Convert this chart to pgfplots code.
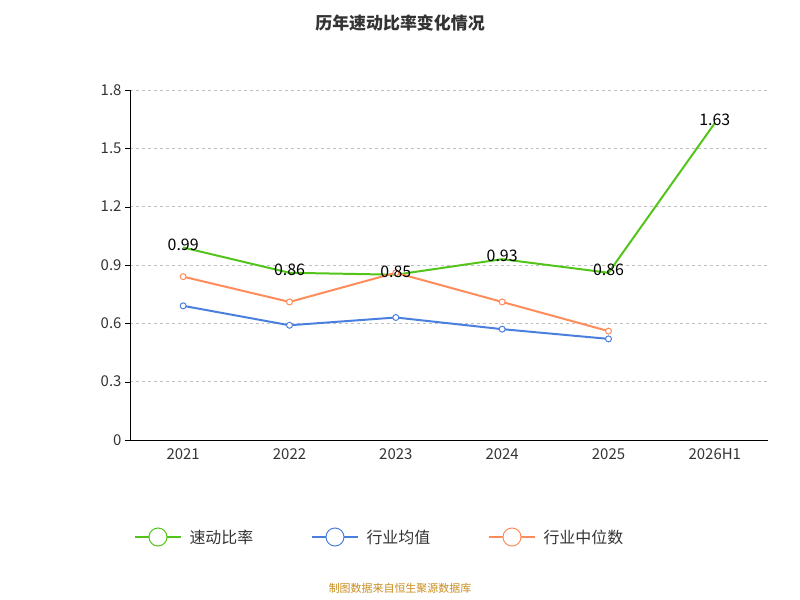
\documentclass[border=0pt]{standalone}
\usepackage{pgfplots}
\pgfplotsset{compat=1.18}
\usepackage{fontspec}
\setmainfont{Noto Sans CJK SC}
\definecolor{cg}{HTML}{52C41A}
\definecolor{cb}{HTML}{4A7FE0}
\definecolor{co}{HTML}{FF8C5A}
\definecolor{tx}{HTML}{333333}
\begin{document}
\begin{tikzpicture}
\path[use as bounding box] (0bp,0bp) rectangle (800bp,600bp);
\node[font=\bfseries\fontsize{17}{20}\selectfont, text=tx] at (400bp,577bp) {历年速动比率变化情况};
\begin{axis}[at={(130bp,160bp)}, anchor=south west, scale only axis, width=638bp, height=350bp,
 xmin=-0.5, xmax=5.5, ymin=0, ymax=1.8,
 xtick={0,...,5}, xticklabels={2021,2022,2023,2024,2025,2026H1},
 minor xtick={-0.5,0.5,...,5.5}, xtick style={draw=none},
 minor tick length=6bp, every minor tick/.style={black,thin},
 ytick={0,0.3,...,1.8}, yticklabels={0,0.3,0.6,0.9,1.2,1.5,1.8},
 ymajorgrids, grid style={dashed, gray!50},
 axis x line*=bottom, axis y line*=left,
 x axis line style={-}, y axis line style={-},
 ytick style={black}, tick align=outside, major tick length=5bp,
 tick label style={font=\fontsize{15}{17}\selectfont, text=tx},
 /pgf/number format/assume math mode=true,
 clip=false]
\addplot[cg, line width=2pt] coordinates {(0,0.99)(1,0.86)(2,0.85)(3,0.93)(4,0.86)(5,1.63)};
\addplot[cb, line width=2pt, mark=*, mark size=3, mark options={fill=white, line width=1pt}] coordinates {(0,0.69)(1,0.59)(2,0.63)(3,0.57)(4,0.52)};
\addplot[co, line width=2pt, mark=*, mark size=3, mark options={fill=white, line width=1pt}] coordinates {(0,0.84)(1,0.71)(2,0.86)(3,0.71)(4,0.56)};
\addplot[only marks, mark=none, nodes near coords, point meta=explicit symbolic,
 nodes near coords style={font=\fontsize{16}{18}\selectfont, anchor=center, yshift=3bp}]
 coordinates {(0,0.99)[0.99](1,0.86)[0.86](2,0.85)[0.85](3,0.93)[0.93](4,0.86)[0.86](5,1.63)[1.63]};
\end{axis}
\draw[cg, line width=2pt] (135bp,63bp)--(181bp,63bp); \draw[cg, fill=white, line width=1pt] (158bp,63bp) circle (9bp);
\node[anchor=west, font=\fontsize{16}{18}\selectfont, text=tx] at (186bp,63bp) {速动比率};
\draw[cb, line width=2pt] (312bp,63bp)--(358bp,63bp); \draw[cb, fill=white, line width=1pt] (335bp,63bp) circle (9bp);
\node[anchor=west, font=\fontsize{16}{18}\selectfont, text=tx] at (363bp,63bp) {行业均值};
\draw[co, line width=2pt] (489bp,63bp)--(535bp,63bp); \draw[co, fill=white, line width=1pt] (512bp,63bp) circle (9bp);
\node[anchor=west, font=\fontsize{16}{18}\selectfont, text=tx] at (540bp,63bp) {行业中位数};
\node[font=\fontsize{11}{13}\selectfont, text={rgb,255:red,200;green,140;blue,30}] at (400bp,12bp) {制图数据来自恒生聚源数据库};
\end{tikzpicture}
\end{document}
